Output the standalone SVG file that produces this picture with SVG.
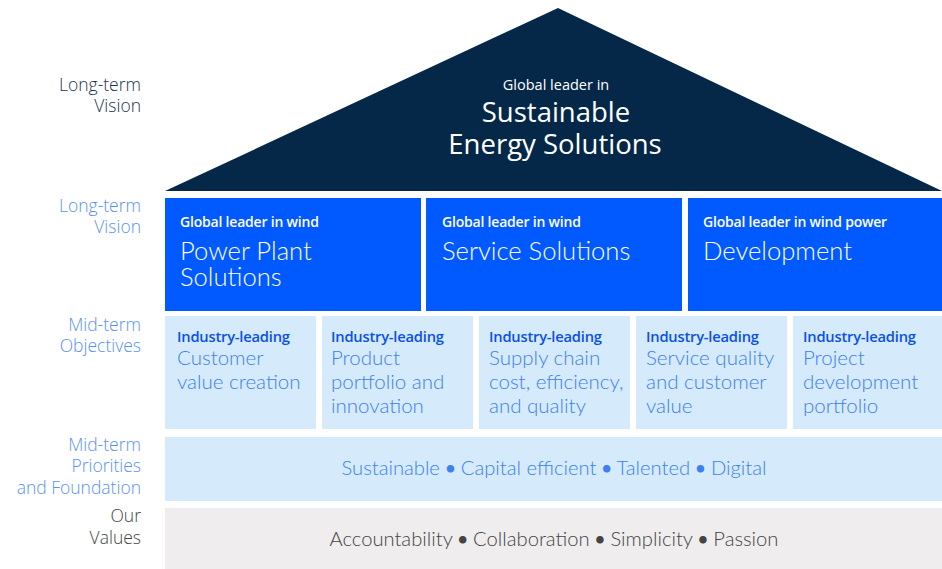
<svg xmlns="http://www.w3.org/2000/svg" width="942" height="569" viewBox="0 0 942 569">
  <style>
    text { font-family: "Open Sans", "Liberation Sans", sans-serif; }
    .light { font-family: "Lato", "Open Sans", sans-serif; font-weight: 300; }
    .dot { font-weight: 700; font-size: 17px; }
    .lbl { font-size: 17.5px; text-anchor: end; }
    .lbl-dark { fill: #1c324e; }
    .lbl-blue { fill: #5a90f6; }
    .lbl-grey { fill: #444444; }
    .roof { fill: #052849; }
    .pillar { fill: #005aff; }
    .obj { fill: #d5ebfb; }
    .band { fill: #d5ebfb; }
    .values { fill: #efedee; }
    .kicker-w { fill: #ffffff; font-size: 14px; font-weight: 600; letter-spacing: -0.2px; }
    .head-w { fill: #ffffff; font-size: 25.6px; }
    .kicker-b { fill: #0a50e6; font-size: 14.7px; font-weight: 600; letter-spacing: -0.2px; }
    .body-b { fill: #3c80f4; font-size: 20.5px; }
    .band-t { fill: #3c80f4; font-size: 20.2px; text-anchor: middle; }
    .values-t { fill: #444444; font-size: 20.2px; text-anchor: middle; }
  </style>

  <!-- row labels -->
  <g id="labels" class="light">
    <text class="lbl lbl-dark" x="141" y="91">Long-term</text>
    <text class="lbl lbl-dark" x="141" y="112">Vision</text>
    <text class="lbl lbl-blue" x="141" y="212">Long-term</text>
    <text class="lbl lbl-blue" x="141" y="233">Vision</text>
    <text class="lbl lbl-blue" x="141" y="331">Mid-term</text>
    <text class="lbl lbl-blue" x="141" y="352">Objectives</text>
    <text class="lbl lbl-blue" x="141" y="451">Mid-term</text>
    <text class="lbl lbl-blue" x="141" y="472">Priorities</text>
    <text class="lbl lbl-blue" x="141" y="494">and Foundation</text>
    <text class="lbl lbl-grey" x="141" y="522">Our</text>
    <text class="lbl lbl-grey" x="141" y="544">Values</text>
  </g>

  <!-- roof: long-term vision -->
  <g id="roof">
    <polygon class="roof" points="558,8 942,191 165,191"/>
    <text x="556" y="90" fill="#ffffff" font-size="14.5" font-weight="500" text-anchor="middle">Global leader in</text>
    <text x="556" y="122" fill="#ffffff" font-size="27.5" font-weight="400" text-anchor="middle">Sustainable</text>
    <text x="555" y="154" fill="#ffffff" font-size="27.5" font-weight="400" text-anchor="middle">Energy Solutions</text>
  </g>

  <!-- pillars -->
  <g id="pillar-power-plant">
    <rect class="pillar" x="165" y="198" width="256" height="113"/>
    <text class="kicker-w" x="180" y="227">Global leader in wind</text>
    <text class="head-w light" x="180" y="260">Power Plant</text>
    <text class="head-w light" x="180" y="286">Solutions</text>
  </g>
  <g id="pillar-service">
    <rect class="pillar" x="426" y="198" width="256" height="113"/>
    <text class="kicker-w" x="442" y="227">Global leader in wind</text>
    <text class="head-w light" x="442" y="260">Service Solutions</text>
  </g>
  <g id="pillar-development">
    <rect class="pillar" x="688" y="198" width="254" height="113"/>
    <text class="kicker-w" x="703" y="227">Global leader in wind power</text>
    <text class="head-w light" x="703" y="260">Development</text>
  </g>

  <!-- mid-term objectives -->
  <g id="obj-customer">
    <rect class="obj" x="165" y="316" width="151" height="113"/>
    <text class="kicker-b" x="177" y="342">Industry-leading</text>
    <text class="body-b light" x="177" y="365">Customer</text>
    <text class="body-b light" x="177" y="389">value creation</text>
  </g>
  <g id="obj-product">
    <rect class="obj" x="322" y="316" width="151" height="113"/>
    <text class="kicker-b" x="331" y="342">Industry-leading</text>
    <text class="body-b light" x="331" y="365">Product</text>
    <text class="body-b light" x="331" y="389">portfolio and</text>
    <text class="body-b light" x="331" y="413">innovation</text>
  </g>
  <g id="obj-supply">
    <rect class="obj" x="479" y="316" width="151" height="113"/>
    <text class="kicker-b" x="489" y="342">Industry-leading</text>
    <text class="body-b light" x="489" y="365">Supply chain</text>
    <text class="body-b light" x="489" y="389">cost, efficiency,</text>
    <text class="body-b light" x="489" y="413">and quality</text>
  </g>
  <g id="obj-service">
    <rect class="obj" x="636" y="316" width="151" height="113"/>
    <text class="kicker-b" x="646" y="342">Industry-leading</text>
    <text class="body-b light" x="646" y="365">Service quality</text>
    <text class="body-b light" x="646" y="389">and customer</text>
    <text class="body-b light" x="646" y="413">value</text>
  </g>
  <g id="obj-project">
    <rect class="obj" x="793" y="316" width="149" height="113"/>
    <text class="kicker-b" x="803" y="342">Industry-leading</text>
    <text class="body-b light" x="803" y="365">Project</text>
    <text class="body-b light" x="803" y="389">development</text>
    <text class="body-b light" x="803" y="413">portfolio</text>
  </g>

  <!-- priorities and foundation -->
  <g id="priorities">
    <rect class="band" x="165" y="437" width="777" height="64"/>
    <text class="band-t light" x="554" y="475">Sustainable <tspan class="dot" dy="-1">•</tspan><tspan dy="1"> Capital efficient </tspan><tspan class="dot" dy="-1">•</tspan><tspan dy="1"> Talented </tspan><tspan class="dot" dy="-1">•</tspan><tspan dy="1"> Digital</tspan></text>
  </g>

  <!-- values -->
  <g id="values">
    <rect class="values" x="165" y="508" width="777" height="61"/>
    <text class="values-t light" x="554" y="546">Accountability <tspan class="dot" dy="-1">•</tspan><tspan dy="1"> Collaboration </tspan><tspan class="dot" dy="-1">•</tspan><tspan dy="1"> Simplicity </tspan><tspan class="dot" dy="-1">•</tspan><tspan dy="1"> Passion</tspan></text>
  </g>

  <g id="connectors"/>
</svg>
